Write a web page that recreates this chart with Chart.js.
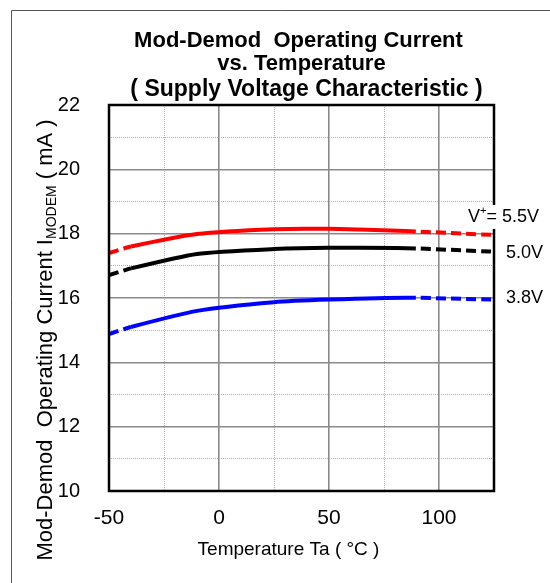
<!DOCTYPE html>
<html>
<head>
<meta charset="utf-8">
<script src="https://cdn.jsdelivr.net/npm/chart.js@4.4.0/dist/chart.umd.min.js"></script>
<style>
  html, body { margin: 0; padding: 0; background: #fff; }
  #wrap { width: 550px; height: 583px; position: relative; }
</style>
</head>
<body>
<div id="wrap"><canvas id="chart" width="550" height="583"></canvas></div>
<script>
// data
const temps = [-50, -40, -10, 25, 50, 85, 125];
const current55 = [17.40, 17.60, 17.99, 18.14, 18.15, 18.08, 17.96];
const current50 = [16.71, 16.92, 17.37, 17.52, 17.56, 17.55, 17.44];
const current38 = [14.88, 15.10, 15.60, 15.87, 15.95, 16.01, 15.95];
const seriesNames = ['5.5V', '5.0V', '3.8V'];
const seriesColors = ['#ff0000', '#000000', '#0000ff'];
const xTickLabels = [-50, 0, 50, 100];
const yTickLabels = [10, 12, 14, 16, 18, 20, 22];
const titleLines = ['Mod-Demod  Operating Current', 'vs. Temperature', '( Supply Voltage Characteristic )'];

const FONT = '"Liberation Sans", Arial, sans-serif';

// dashed where the curve is extrapolated (below -40 and above 85)
function segDash(ctx) {
    const x0 = ctx.p0.parsed.x;
    if (x0 < -40 || x0 >= 85) return [10, 5];
    return undefined;
}

function makeSet(name, values, color) {
    return {
        label: name,
        data: temps.map((t, i) => ({ x: t, y: values[i] })),
        borderColor: color,
        backgroundColor: color,
        borderWidth: 4,
        pointRadius: 0,
        tension: 0.2,
        fill: false,
        segment: { borderDash: segDash }
    };
}

// extra drawing: frame, titles, axis titles, right-hand labels
const decorPlugin = {
    id: 'decor',
    afterDraw(chart) {
        const ctx = chart.ctx;
        const a = chart.chartArea;
        const ys = chart.scales.y;
        const cx = (a.left + a.right) / 2;

        ctx.save();
        // outer frame (only top and left fall inside the picture)
        ctx.strokeStyle = '#555';
        ctx.lineWidth = 1;
        ctx.beginPath();
        ctx.moveTo(11.5, 600);
        ctx.lineTo(11.5, 10.5);
        ctx.lineTo(600, 10.5);
        ctx.stroke();

        // plot frame
        ctx.strokeStyle = '#000';
        ctx.lineWidth = 2.5;
        ctx.strokeRect(a.left, a.top, a.right - a.left, a.bottom - a.top);

        // title
        ctx.fillStyle = '#000';
        ctx.textAlign = 'center';
        ctx.textBaseline = 'alphabetic';
        ctx.font = 'bold 22px ' + FONT;
        ctx.fillText(titleLines[0], cx - 3, 47);
        ctx.fillText(titleLines[1], cx, 70);
        ctx.font = 'bold 23px ' + FONT;
        ctx.fillText(titleLines[2], cx + 5, 96);

        // x axis title
        ctx.font = '19px ' + FONT;
        ctx.textBaseline = 'middle';
        ctx.fillText('Temperature Ta ( °C )', cx - 13, 550);

        // y axis title with subscript
        ctx.translate(52, 340);
        ctx.rotate(-Math.PI / 2);
        const big = '22px ' + FONT, small = '14px ' + FONT;
        const p1 = 'Mod-Demod  Operating Current I', p2 = 'MODEM', p3 = ' ( mA )';
        ctx.font = big; const w1 = ctx.measureText(p1).width;
        const w3 = ctx.measureText(p3).width;
        ctx.font = small; const w2 = ctx.measureText(p2).width;
        let x = -(w1 + w2 + w3) / 2;
        ctx.textAlign = 'left';
        ctx.textBaseline = 'alphabetic';
        ctx.font = big; ctx.fillText(p1, x, 0); x += w1;
        ctx.font = small; ctx.fillText(p2, x, 4); x += w2;
        ctx.font = big; ctx.fillText(p3, x, 0);
        ctx.setTransform(1, 0, 0, 1, 0, 0);

        // labels at the right end of each curve
        ctx.textAlign = 'left';
        ctx.textBaseline = 'middle';
        const last = temps.length - 1;
        const y55 = ys.getPixelForValue(current55[last]) - 18;
        const y50 = ys.getPixelForValue(current50[last]) + 1;
        const y38 = ys.getPixelForValue(current38[last]) - 2;
        const big2 = '18px ' + FONT, sup = '11px ' + FONT;
        ctx.font = big2;
        const wv = ctx.measureText('V').width;
        const we = ctx.measureText('= ' + seriesNames[0]).width;
        ctx.font = sup;
        const wp = ctx.measureText('+').width;
        const lx = 468;
        ctx.fillStyle = '#fff';
        ctx.fillRect(lx - 2, y55 - 12, wv + wp + we + 4, 24);
        ctx.fillStyle = '#000';
        ctx.font = big2;
        ctx.fillText('V', lx, y55);
        ctx.font = sup;
        ctx.fillText('+', lx + wv, y55 - 6);
        ctx.font = big2;
        ctx.fillText('= ' + seriesNames[0], lx + wv + wp, y55);
        ctx.fillText(seriesNames[1], 506, y50);
        ctx.fillText(seriesNames[2], 506, y38);
        ctx.restore();
    }
};

const ctx = document.getElementById('chart').getContext('2d');
new Chart(ctx, {
    type: 'line',
    data: {
        datasets: [
            makeSet(seriesNames[0], current55, seriesColors[0]),
            makeSet(seriesNames[1], current50, seriesColors[1]),
            makeSet(seriesNames[2], current38, seriesColors[2])
        ]
    },
    options: {
        responsive: false,
        animation: false,
        layout: { padding: { left: 0, right: 56, top: 105, bottom: 0 } },
        plugins: {
            legend: { display: false },
            tooltip: { enabled: false },
            title: { display: false }
        },
        scales: {
            x: {
                type: 'linear',
                min: -50,
                max: 125,
                afterFit: (s) => { s.height = 92; },
                afterBuildTicks: (s) => {
                    s.ticks = [];
                    for (let v = -50; v <= 125; v += 25) s.ticks.push({ value: v });
                },
                ticks: {
                    autoSkip: false,
                    maxRotation: 0,
                    padding: 15,
                    color: '#000',
                    font: { family: FONT, size: 21 },
                    callback: (v) => xTickLabels.includes(v) ? String(v) : ''
                },
                grid: {
                    drawTicks: false,
                    color: (c) => (c.tick && c.tick.value % 50 === 0) ? '#8a8a8a' : '#b0b0b0',
                    lineWidth: (c) => (c.tick && c.tick.value % 50 === 0) ? 1.6 : 1
                },
                border: {
                    display: false,
                    dash: (c) => (c.tick && c.tick.value % 50 === 0) ? [] : [1, 1]
                }
            },
            y: {
                type: 'linear',
                min: 10,
                max: 22,
                afterFit: (s) => { s.width = 109; },
                afterBuildTicks: (s) => {
                    s.ticks = [];
                    for (let v = 10; v <= 22; v += 1) s.ticks.push({ value: v });
                },
                ticks: {
                    autoSkip: false,
                    padding: 29,
                    color: '#000',
                    font: { family: FONT, size: 20 },
                    callback: (v) => yTickLabels.includes(v) ? String(v) : ''
                },
                grid: {
                    drawTicks: false,
                    color: (c) => (c.tick && c.tick.value % 2 === 0) ? '#8a8a8a' : '#b0b0b0',
                    lineWidth: (c) => (c.tick && c.tick.value % 2 === 0) ? 1.6 : 1
                },
                border: {
                    display: false,
                    dash: (c) => (c.tick && c.tick.value % 2 === 0) ? [] : [1, 1]
                }
            }
        }
    },
    plugins: [decorPlugin]
});
</script>
</body>
</html>
